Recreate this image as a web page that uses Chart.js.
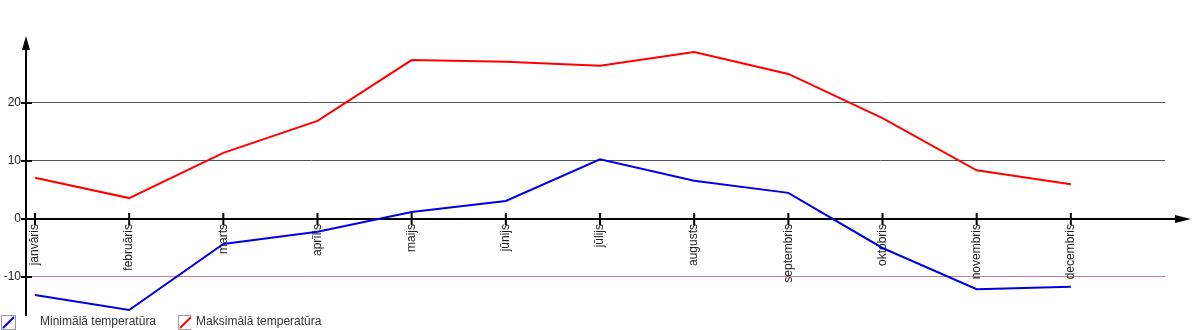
<!DOCTYPE html>
<html>
<head>
<meta charset="utf-8">
<script src="https://cdn.jsdelivr.net/npm/chart.js@4/dist/chart.umd.min.js"></script>
<style>
  body { margin: 0; background: #fff; }
  canvas { display: block; }
</style>
</head>
<body>
<canvas id="tempChart" width="1200" height="330"></canvas>
<script>
const months = ['janvāris', 'februāris', 'marts', 'aprīlis', 'maijs', 'jūnijs',
                'jūlijs', 'augusts', 'septembris', 'oktobris', 'novembris', 'decembris'];
const minTemp = [-13.1, -15.7, -4.3, -2.2, 1.2, 3.1, 10.3, 6.6, 4.5, -5.0, -12.1, -11.7];
const maxTemp = [7.1, 3.6, 11.4, 16.9, 27.4, 27.1, 26.4, 28.8, 25.0, 17.4, 8.4, 6.0];
const yTicks = [-10, 0, 10, 20];
const seriesNames = ['Minimālā temperatūra', 'Maksimālā temperatūra'];

Chart.defaults.font.family = "'Liberation Sans', Arial, sans-serif";
Chart.defaults.font.size = 12;
Chart.defaults.color = '#222';

// legend swatch: grey box with a diagonal stroke, box shifted by `offset`
function swatch(color, offset) {
    const c = document.createElement('canvas');
    c.width = 34;
    c.height = 16;
    const g = c.getContext('2d');
    g.strokeStyle = '#999999';
    g.lineWidth = 1;
    g.strokeRect(offset + 0.5, 1.5, 14, 14);
    g.strokeStyle = color;
    g.lineWidth = 2;
    g.beginPath();
    g.moveTo(offset + 2, 14);
    g.lineTo(offset + 13, 3);
    g.stroke();
    return c;
}

const axisPlugin = {
    id: 'axisArrows',
    beforeDatasetsDraw(chart) {
        const ctx = chart.ctx;
        const area = chart.chartArea;
        const xs = chart.scales.x;
        const ys = chart.scales.y;
        const x0 = area.left - 1;
        const y0 = ys.getPixelForValue(0);
        ctx.save();
        ctx.strokeStyle = '#000';
        ctx.fillStyle = '#000';
        ctx.lineWidth = 2;
        // y axis
        ctx.beginPath();
        ctx.moveTo(x0, area.bottom + 2);
        ctx.lineTo(x0, area.top + 8);
        ctx.stroke();
        ctx.beginPath();
        ctx.moveTo(x0, area.top - 2);
        ctx.lineTo(x0 - 4, area.top + 12);
        ctx.lineTo(x0 + 4, area.top + 12);
        ctx.closePath();
        ctx.fill();
        // x axis
        ctx.beginPath();
        ctx.moveTo(x0, y0);
        ctx.lineTo(1180, y0);
        ctx.stroke();
        ctx.beginPath();
        ctx.moveTo(1191, y0);
        ctx.lineTo(1175, y0 - 4);
        ctx.lineTo(1175, y0 + 4);
        ctx.closePath();
        ctx.fill();
        // tick marks
        ctx.beginPath();
        months.forEach((m, i) => {
            const px = xs.getPixelForValue(i);
            ctx.moveTo(px, y0 - 6);
            ctx.lineTo(px, y0 + 6);
        });
        yTicks.forEach(v => {
            const py = ys.getPixelForValue(v);
            ctx.moveTo(x0 - 5, py);
            ctx.lineTo(x0 + 6, py);
        });
        ctx.stroke();
        ctx.restore();
    }
};

new Chart(document.getElementById('tempChart'), {
    type: 'line',
    data: {
        datasets: [{
            label: seriesNames[0],
            data: minTemp.map((v, i) => ({ x: i, y: v })),
            borderColor: '#0000e6',
            borderWidth: 2,
            pointRadius: 0,
            tension: 0,
            fill: false
        }, {
            label: seriesNames[1],
            data: maxTemp.map((v, i) => ({ x: i, y: v })),
            borderColor: '#ff0000',
            borderWidth: 2,
            pointRadius: 0,
            tension: 0,
            fill: false
        }]
    },
    options: {
        responsive: false,
        animation: false,
        layout: { padding: { top: 38, right: 35, left: 0, bottom: 0 } },
        plugins: {
            tooltip: { enabled: false },
            legend: {
                position: 'bottom',
                align: 'start',
                maxHeight: 16,
                labels: {
                    usePointStyle: true,
                    pointStyleWidth: 32,
                    padding: 2,
                    color: '#333',
                    font: { size: 12 },
                    generateLabels(chart) {
                        return chart.data.datasets.map((ds, i) => ({
                            text: ds.label,
                            pointStyle: swatch(ds.borderColor, i === 0 ? 0 : 21),
                            fillStyle: 'transparent',
                            strokeStyle: 'transparent',
                            lineWidth: 0,
                            fontColor: '#333',
                            datasetIndex: i
                        }));
                    }
                }
            }
        },
        scales: {
            x: {
                type: 'linear',
                min: -0.085,
                max: 12.0,
                position: { y: 0 },
                grid: { display: false, drawTicks: false },
                border: { display: false },
                afterBuildTicks: s => { s.ticks = months.map((m, i) => ({ value: i })); },
                ticks: {
                    autoSkip: false,
                    minRotation: 90,
                    maxRotation: 90,
                    padding: 5,
                    color: '#222',
                    font: { size: 12 },
                    callback: v => months[v]
                }
            },
            y: {
                min: -16.38,
                max: 31.2,
                afterFit: s => { s.width = 27; },
                afterBuildTicks: s => { s.ticks = yTicks.map(v => ({ value: v })); },
                grid: {
                    drawTicks: false,
                    lineWidth: 1,
                    color: c => c.tick.value === 0 ? 'rgba(0,0,0,0)' :
                        (c.tick.value < 0 ? '#c87a9a' : '#555555')
                },
                border: { display: false },
                ticks: {
                    padding: 6,
                    color: '#222',
                    font: { size: 12 }
                }
            }
        }
    },
    plugins: [axisPlugin]
});
</script>
</body>
</html>
